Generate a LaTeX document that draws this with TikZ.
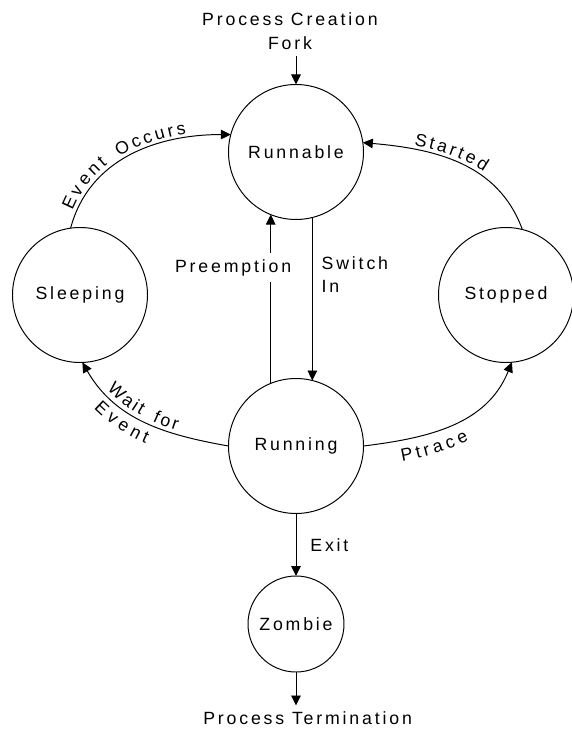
\documentclass[tikz,border=0pt]{standalone}
\usepackage{fontspec}
\setmainfont[LetterSpace=16]{Liberation Sans}
\usetikzlibrary{arrows.meta,positioning,decorations.text}

\begin{document}
\begin{tikzpicture}[>={Triangle[length=2.5mm,width=2.4mm]},line width=0.7pt]
\fontsize{12.6}{17}\selectfont
\tikzstyle{procstate}=[circle,draw=black,inner sep=0pt,outer sep=0pt,
minimum size=33.75mm]
\tikzstyle{curvedlbl}=[decorate,decoration={text along path,text align=center}]
\useasboundingbox (-7.4,3.8) rectangle (6.875,-14.45);
\node[procstate] at (0,0) (runnable) {Runnable};
\node[procstate,below of=runnable,node distance=73.5mm] (running) {Running};
\node[procstate,left of=runnable,node distance=54mm,yshift=-35.75mm] (sleeping) {Sleeping};
\node[procstate,right of=runnable,node distance=52.5mm,yshift=-35.75mm] (stopped) {Stopped};
\node[procstate,below of=running,node distance=44.5mm,minimum size=24mm] (zombie) {Zombie};
\node[above of=runnable,node distance=30.1mm,xshift=-1.5mm,align=center] (create) {Process Creation\\Fork};
\node[below of=zombie,node distance=23.6mm,xshift=2.9mm] (term) {Process Termination};

% straight transitions
\draw[->] (create.south -| runnable.north) -- (runnable.north);
\draw[->] (runnable.284) -- node[pos=0.35,anchor=west,align=left,xshift=0.75mm] {Switch\\In} (running.76);
\draw[->] (running.112) -- node[pos=0.686,fill=white,xshift=-9.4mm] {Preemption} (runnable.248);
\draw[->] (running) -- node[right,xshift=2mm] {Exit} (zombie);
\draw[->] (zombie.south) -- (zombie.south |- term.north);

% curved transitions
\draw[->] (sleeping.98) to[out=75,in=180] (runnable.165);
\draw[->] (stopped.76) to[out=110,in=-5] (runnable.8);
\draw[->] (running.180) to[out=170,in=300] (sleeping.272);
\draw[->] (running.0) to[out=7,in=248] (stopped.275);

% labels along the curves, spread a little like the other texts
\path[curvedlbl,decoration={raise=1mm,text align={left,left indent=3.5mm},text={|\kern2pt|Event Occurs}}] (sleeping.98) to[out=75,in=180] (runnable.165);
\path[curvedlbl,decoration={raise=1mm,text align={left,left indent=12mm},text={|\kern2pt|Started}}] (runnable.8) to[out=-5,in=110] (stopped.76);
\path[curvedlbl,decoration={raise=-5.3mm,text align={left,left indent=8mm},text={|\kern2pt|Ptrace}}] (running.0) to[out=7,in=248] (stopped.275);
\path[curvedlbl,decoration={raise=1mm,text align={left,left indent=8.5mm},text={|\kern2pt|Wait for}}] (sleeping.272) to[out=300,in=170] (running.180);
\path[curvedlbl,decoration={raise=-4.8mm,text align={left,left indent=9.5mm},text={|\kern2pt|Event}}] (sleeping.272) to[out=300,in=170] (running.180);

\end{tikzpicture}
\end{document}
